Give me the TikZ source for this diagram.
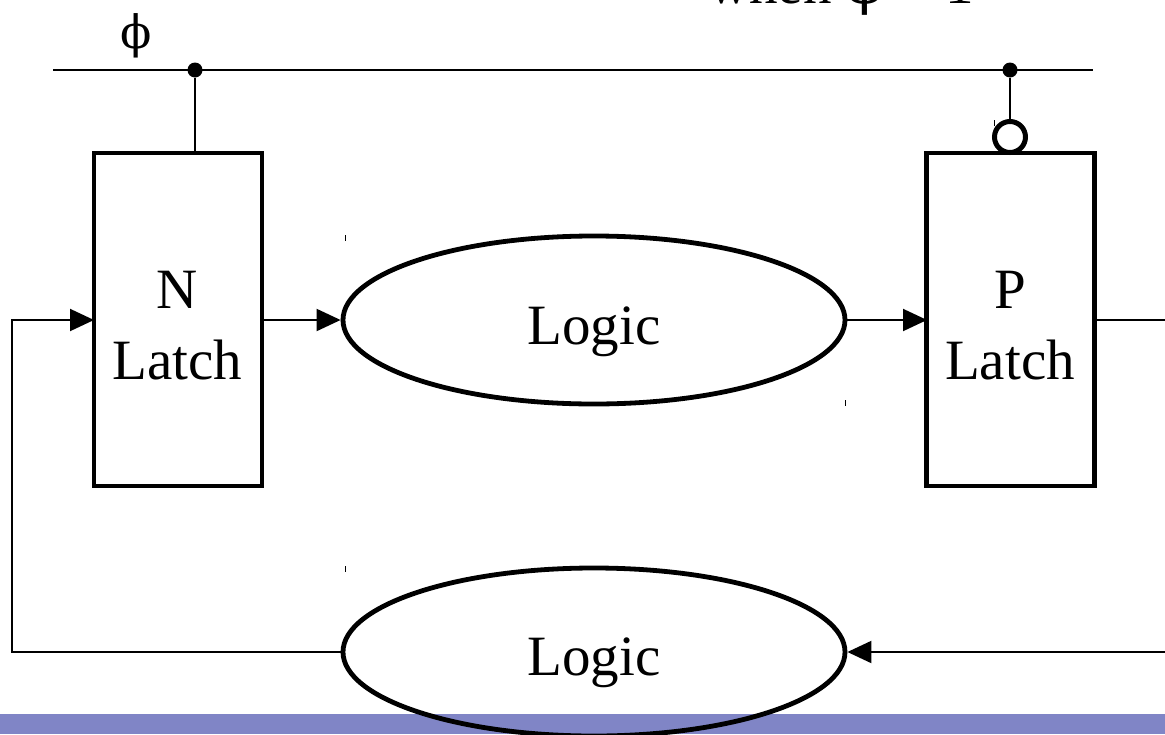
\documentclass[tikz,border=0pt]{standalone}
\usepackage{fontspec}
\setmainfont{Liberation Serif}
\newfontfamily\phifont{DejaVu Serif}
\usetikzlibrary{arrows.meta,shapes.geometric}
\definecolor{barblue}{RGB}{128,133,198}
\tikzset{
  latch/.style={draw, line width=4.8pt, minimum width=168pt, minimum height=333pt, inner sep=0pt},
  logic/.style={draw, ellipse, line width=4.8pt, minimum width=502pt, minimum height=168pt, inner sep=0pt},
  big/.style={font=\fontsize{57}{71}\selectfont, inner sep=0pt, anchor=base},
  wire/.style={line width=2pt},
  arr/.style={wire, -{Triangle[length=24pt,width=22pt]}},
  dot/.style={circle, fill, inner sep=0pt, minimum size=15pt},
  tick/.style={line width=0.8pt}
}
\begin{document}
\begin{tikzpicture}[x=1pt,y=-1pt]
\useasboundingbox (0,0) rectangle (1165,734);
\clip (0,0) rectangle (1165,734);
\fill[barblue] (0,714) rectangle (1165,734);
% clock
\coordinate (clkL) at (53,70);
\coordinate (clkR) at (1093,70);
\draw[wire] (clkL) -- (clkR);
\node[dot] (d1) at (195,70) {};
\node[dot] (d2) at (1010,70) {};
\node[font=\fontsize{46}{50}\selectfont\phifont, inner sep=0pt, anchor=base] (phi) at (136,48) {ϕ};
\node[anchor=base west, font=\fontsize{57}{71}\selectfont, inner sep=0pt] (when) at (708,3) {when {\phifont ϕ} = 1};
% latches
\node[latch] (N) at (178,319.5) {};
\node[latch] (P) at (1010.5,319.5) {};
\node[big] (Nt1) at (177.5,308) {N};
\node[big] (Nt2) at (177.5,379) {Latch};
\node[big] (Pt1) at (1010,308) {P};
\node[big] (Pt2) at (1010,379) {Latch};
\draw[wire] (d1) -- (N.north -| d1);
\node[circle, draw, line width=5pt, minimum size=31pt, inner sep=0pt] (bub) at (1010,137) {};
\draw[wire] (d2) -- (bub.north);
% logic
\node[logic] (L1) at (594,320) {};
\node[logic] (L2) at (594,652) {};
\node[big] (L1t) at (594,344) {Logic};
\node[big] (L2t) at (594,675) {Logic};
\coordinate (Nin) at (94,320);
\coordinate (Nout) at (262,320);
\coordinate (Pin) at (927,320);
\coordinate (Pout) at (1094,320);
\coordinate (rt1) at (1166,320);
\coordinate (rt2) at (1166,652);
\coordinate (lc1) at (12,652);
\coordinate (lc2) at (12,320);
\draw[arr] (Nout) -- (L1.west);
\draw[arr] (L1.east) -- (Pin);
\draw[wire] (Pout) -- (rt1);
\draw[arr] (rt2) -- (L2.east);
\draw[arr] (L2.west) -- (lc1) -- (lc2) -- (Nin);
% stray ticks
\draw[tick] (345,235) -- (345,241);
\draw[tick] (345,566) -- (345,572);
\draw[tick] (845,400) -- (845,406);
\draw[tick] (994,120) -- (994,126);
\end{tikzpicture}
\end{document}
